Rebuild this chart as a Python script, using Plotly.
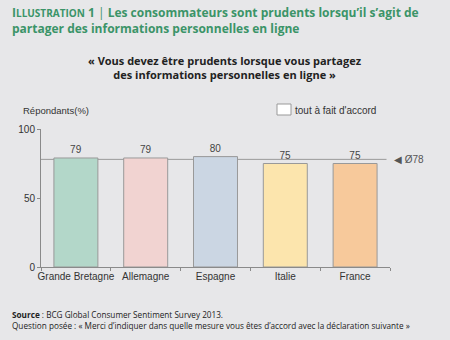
import plotly.graph_objects as go

categories = ["Grande Bretagne", "Allemagne", "Espagne", "Italie", "France"]
values = [79, 79, 80, 75, 75]
bar_colors = ["#b3d7c9", "#f1d3d1", "#cbd6e3", "#fce5ad", "#f7c99b"]
average = 78
y_ticks = [0, 50, 100]

BG = "#e7e7e9"
GREEN = "#3b9468"
AX = "#8a8a8a"
TXT = "#333333"

fig = go.Figure()
fig.add_trace(go.Bar(
    x=categories, y=values,
    marker=dict(color=bar_colors, line=dict(color="#999999", width=1)),
    width=0.63,
    text=[str(v) for v in values], textposition="outside",
    textfont=dict(family="Liberation Sans, Arial", size=10, color="#444444"),
    cliponaxis=False, showlegend=False, hoverinfo="skip",
))

fig.add_shape(type="line", xref="paper", yref="y", x0=0, x1=0.99, y0=average, y1=average,
              line=dict(color="#9a9a9a", width=1), layer="below")
fig.add_annotation(xref="paper", yref="y", x=1.005, y=average, xanchor="left", yanchor="middle",
                   text="◀ Ø" + str(average), showarrow=False,
                   font=dict(family="Liberation Sans, Arial", size=10, color="#555555"))

fig.update_layout(
    width=450, height=340,
    margin=dict(l=41, r=60, t=129, b=73),
    paper_bgcolor=BG, plot_bgcolor=BG,
    bargap=0.37,
    xaxis=dict(showline=True, linecolor=AX, linewidth=1, ticks="outside", tickson="boundaries",
               ticklen=3, tickcolor=AX, showgrid=False, fixedrange=True, tickangle=0,
               tickfont=dict(family="Liberation Sans, Arial", size=10, color=TXT)),
    yaxis=dict(range=[0, 100], tickvals=y_ticks, showline=True, linecolor=AX, linewidth=1,
               ticks="outside", ticklen=3, tickcolor=AX, showgrid=False, zeroline=False,
               tickfont=dict(family="Liberation Sans, Arial", size=10, color=TXT)),
)


def px_x(x):
    return (x - 41) / 349.0


def px_y(y):
    return (267 - y) / 138.0


title = ("<b>I<span style='font-size:10px'>LLUSTRATION</span> 1</b> | "
         "<b>Les consommateurs sont prudents lorsqu’il s’agit de</b><br>"
         "<b>partager des informations personnelles en ligne</b>")
fig.add_annotation(xref="paper", yref="paper", x=px_x(10), y=px_y(20.5), xanchor="left", yanchor="middle",
                   showarrow=False, align="left", text=title,
                   font=dict(family="Open Sans", size=12, color=GREEN))
fig.add_annotation(xref="paper", yref="paper", x=px_x(225), y=px_y(67), xanchor="center", yanchor="middle",
                   showarrow=False, align="center",
                   text="<b>« Vous devez être prudents lorsque vous partagez<br>des informations personnelles en ligne »</b>",
                   font=dict(family="Open Sans", size=11, color="#222222"))
fig.add_annotation(xref="paper", yref="paper", x=px_x(21), y=px_y(110), xanchor="left", yanchor="middle",
                   showarrow=False, text="Répondants(%)",
                   font=dict(family="Liberation Sans, Arial", size=9.5, color=TXT))
fig.add_shape(type="rect", xref="paper", yref="paper", x0=px_x(277), x1=px_x(291), y0=px_y(115), y1=px_y(104),
              fillcolor="white", line=dict(color="#999999", width=1))
fig.add_annotation(xref="paper", yref="paper", x=px_x(293), y=px_y(110), xanchor="left", yanchor="middle",
                   showarrow=False, text="tout à fait d'accord",
                   font=dict(family="Liberation Sans, Arial", size=10, color=TXT))
fig.add_annotation(xref="paper", yref="paper", x=px_x(10), y=px_y(320), xanchor="left", yanchor="middle",
                   showarrow=False, align="left",
                   text=("<b>Source</b> : BCG Global Consumer Sentiment Survey 2013.<br>"
                         "Question posée : « Merci d’indiquer dans quelle mesure vous êtes d’accord avec la déclaration suivante »"),
                   font=dict(family="Open Sans", size=8.2, color="#222222"))

fig.write_html("out.html")
